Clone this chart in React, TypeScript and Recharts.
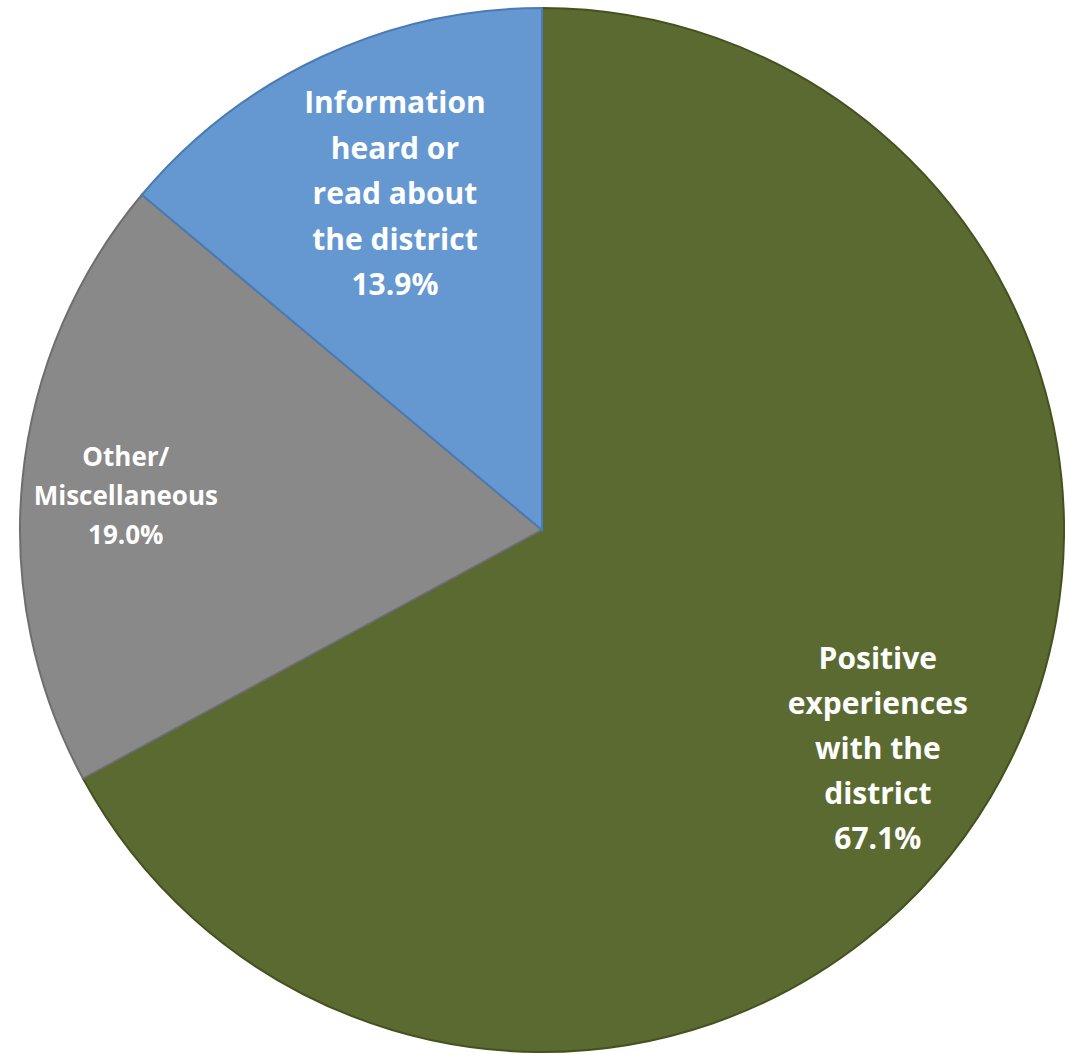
import { Cell, Pie, PieChart } from "recharts";

const categories = ["Positive experiences with the district", "Other/ Miscellaneous", "Information heard or read about the district"];
const shares = [67.1, 19.0, 13.9];
const labelLines = [
  ["Positive", "experiences", "with the", "district", "67.1%"],
  ["Other/", "Miscellaneous", "19.0%"],
  ["Information", "heard or", "read about", "the district", "13.9%"]
];

const fills = ["#5b6a31", "#898989", "#6598d0"];
const edges = ["#45521f", "#6e6e6e", "#4a7bb4"];
// label placement: fraction of radius and small angle nudge (degrees)
const labelRadius = [0.766, 0.8, 0.706];
const labelNudge = [-2.1, 1.0, -1.5];
const labelFont = [30, 26, 30];
const labelLead = [45, 39, 45.5];

const data = categories.map((name, i) => ({ name, value: shares[i] }));

const RAD = Math.PI / 180;

const renderLabel = (props: any) => {
  const { cx, cy, midAngle, outerRadius, index } = props;
  const r = outerRadius * labelRadius[index];
  const a = midAngle + labelNudge[index];
  const x = cx + r * Math.cos(-a * RAD);
  const y = cy + r * Math.sin(-a * RAD);
  const lines = labelLines[index];
  const lead = labelLead[index];
  const top = y - ((lines.length - 1) * lead) / 2;

  return (
    <text
      x={x}
      y={top}
      fill="#ffffff"
      fontFamily="'Open Sans', sans-serif"
      fontSize={labelFont[index]}
      fontWeight={700}
      textAnchor="middle"
      dominantBaseline="central"
    >
      {lines.map((line, i) => (
        <tspan key={line} x={x} y={top + i * lead}>
          {line}
        </tspan>
      ))}
    </text>
  );
};

export default function App() {
  return (
    <div style={{ position: "absolute", left: 0, top: 0, width: 1065, height: 1055, background: "#ffffff" }}>
      <PieChart width={1065} height={1055} margin={{ top: 0, right: 0, bottom: 0, left: 0 }}>
        <Pie
          data={data}
          dataKey="value"
          nameKey="name"
          cx={542}
          cy={530}
          outerRadius={522}
          startAngle={90}
          endAngle={-270}
          label={renderLabel}
          labelLine={false}
          isAnimationActive={false}
        >
          {data.map((entry, i) => (
            <Cell key={entry.name} fill={fills[i]} stroke={edges[i]} strokeWidth={2} />
          ))}
        </Pie>
      </PieChart>
    </div>
  );
}
